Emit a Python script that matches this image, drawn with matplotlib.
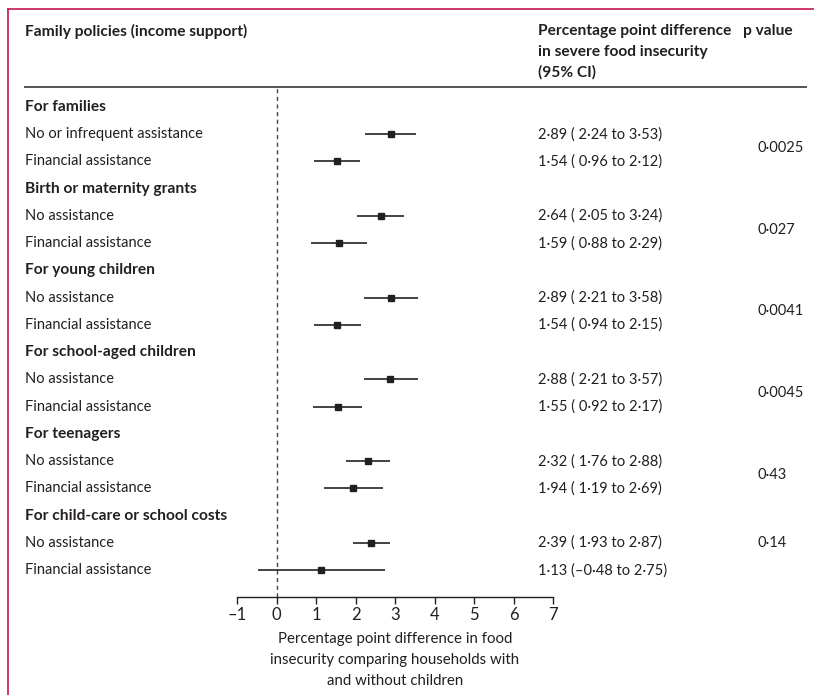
import matplotlib.pyplot as plt
import matplotlib.transforms as mtransforms
from matplotlib.lines import Line2D

plt.rcParams['font.family'] = ['Lato', 'DejaVu Sans']
plt.rcParams['font.size'] = 10.5

# data
groups = ["For families", "Birth or maternity grants", "For young children",
          "For school-aged children", "For teenagers", "For child-care or school costs"]
sub_labels = [["No or infrequent assistance", "Financial assistance"]] + \
             [["No assistance", "Financial assistance"]] * 5
est = [2.89, 1.54, 2.64, 1.59, 2.89, 1.54, 2.88, 1.55, 2.32, 1.94, 2.39, 1.13]
lo = [2.24, 0.96, 2.05, 0.88, 2.21, 0.94, 2.21, 0.92, 1.76, 1.19, 1.93, -0.48]
hi = [3.53, 2.12, 3.24, 2.29, 3.58, 2.15, 3.57, 2.17, 2.88, 2.69, 2.87, 2.75]
pvals = ["0·0025", "0·027", "0·0041", "0·0045", "0·43", "0·14"]
p_offset = [0.5, 0.5, 0.5, 0.5, 0.5, 0]  # where the p value sits in the group
xticks = [-1, 0, 1, 2, 3, 4, 5, 6, 7]

W, H = 814, 695
txt = '#231f20'
pink = '#c8174b'
bold_size = 11.2


def fx(px):
    return px / W


def fy(py):
    return 1 - py / H


def num(v):
    s = f"{abs(v):.2f}".replace('.', '·')
    return ('–' + s) if v < 0 else s


fig = plt.figure(figsize=(W / 100, H / 100), dpi=100)

# forest axes: x -1..7 -> 237..553 px, y from header line to axis line
ax_top, ax_bot = 87, 597
ax = fig.add_axes([fx(237), fy(ax_bot), fx(553) - fx(237), (ax_bot - ax_top) / H])
row0, rstep = 107, 27.24
ax.set_xlim(-1, 7)
ax.set_ylim((ax_bot - row0) / rstep, (ax_top - row0) / rstep)
for s in ['top', 'right', 'left']:
    ax.spines[s].set_visible(False)
ax.spines['bottom'].set_color(txt)
ax.spines['bottom'].set_linewidth(1.0)
ax.set_yticks([])
ax.set_xticks(xticks)
ax.set_xticklabels([('–' + str(-t)) if t < 0 else str(t) for t in xticks], color=txt, fontsize=12)
ax.tick_params(axis='x', length=5, width=1.0, color=txt, pad=2)
ax.set_xlabel("Percentage point difference in food\ninsecurity comparing households with\nand without children",
              color=txt, fontsize=10.8, linespacing=1.62, labelpad=7)
ax.axvline(0, color='#444444', lw=1.0, ls=(0, (3, 2.5)))

tr = mtransforms.blended_transform_factory(fig.transFigure, ax.transData)

row = 0
k = 0
for g, name in enumerate(groups):
    fig.text(fx(25), row, name, transform=tr, fontweight='bold', fontsize=bold_size,
             color=txt, va='center')
    row += 1
    first = row
    for lab in sub_labels[g]:
        fig.text(fx(25), row, lab, transform=tr, color=txt, va='center')
        ax.plot([lo[k], hi[k]], [row, row], color='#111111', lw=1.1, solid_capstyle='butt')
        ax.plot(est[k], row, marker='s', ms=5, color='#231f20', mec='#231f20')
        lo_s = num(lo[k])
        lo_s = lo_s if lo[k] < 0 else ' ' + lo_s
        fig.text(fx(538), row, f"{num(est[k])} ({lo_s} to {num(hi[k])})",
                 transform=tr, color=txt, va='center')
        row += 1
        k += 1
    fig.text(fx(758), first + p_offset[g], pvals[g], transform=tr, color=txt, va='center')

# header
fig.text(fx(25), fy(31), "Family policies (income support)", fontweight='bold',
         fontsize=bold_size, color=txt, va='center')
fig.text(fx(538), fy(52), "Percentage point difference\nin severe food insecurity\n(95% CI)",
         fontweight='bold', fontsize=bold_size, color=txt, va='center', linespacing=1.6)
fig.text(fx(743), fy(31), "p value", fontweight='bold', fontsize=bold_size, color=txt, va='center')
fig.add_artist(Line2D([fx(25), fx(806)], [fy(87), fy(87)], color='#555555', lw=1.4))

# pink frame
fig.add_artist(Line2D([fx(8), 1], [fy(9), fy(9)], color=pink, lw=1.2))
fig.add_artist(Line2D([fx(8), fx(8)], [fy(9), 0], color=pink, lw=1.2))

fig.savefig('out.png', dpi=100)
